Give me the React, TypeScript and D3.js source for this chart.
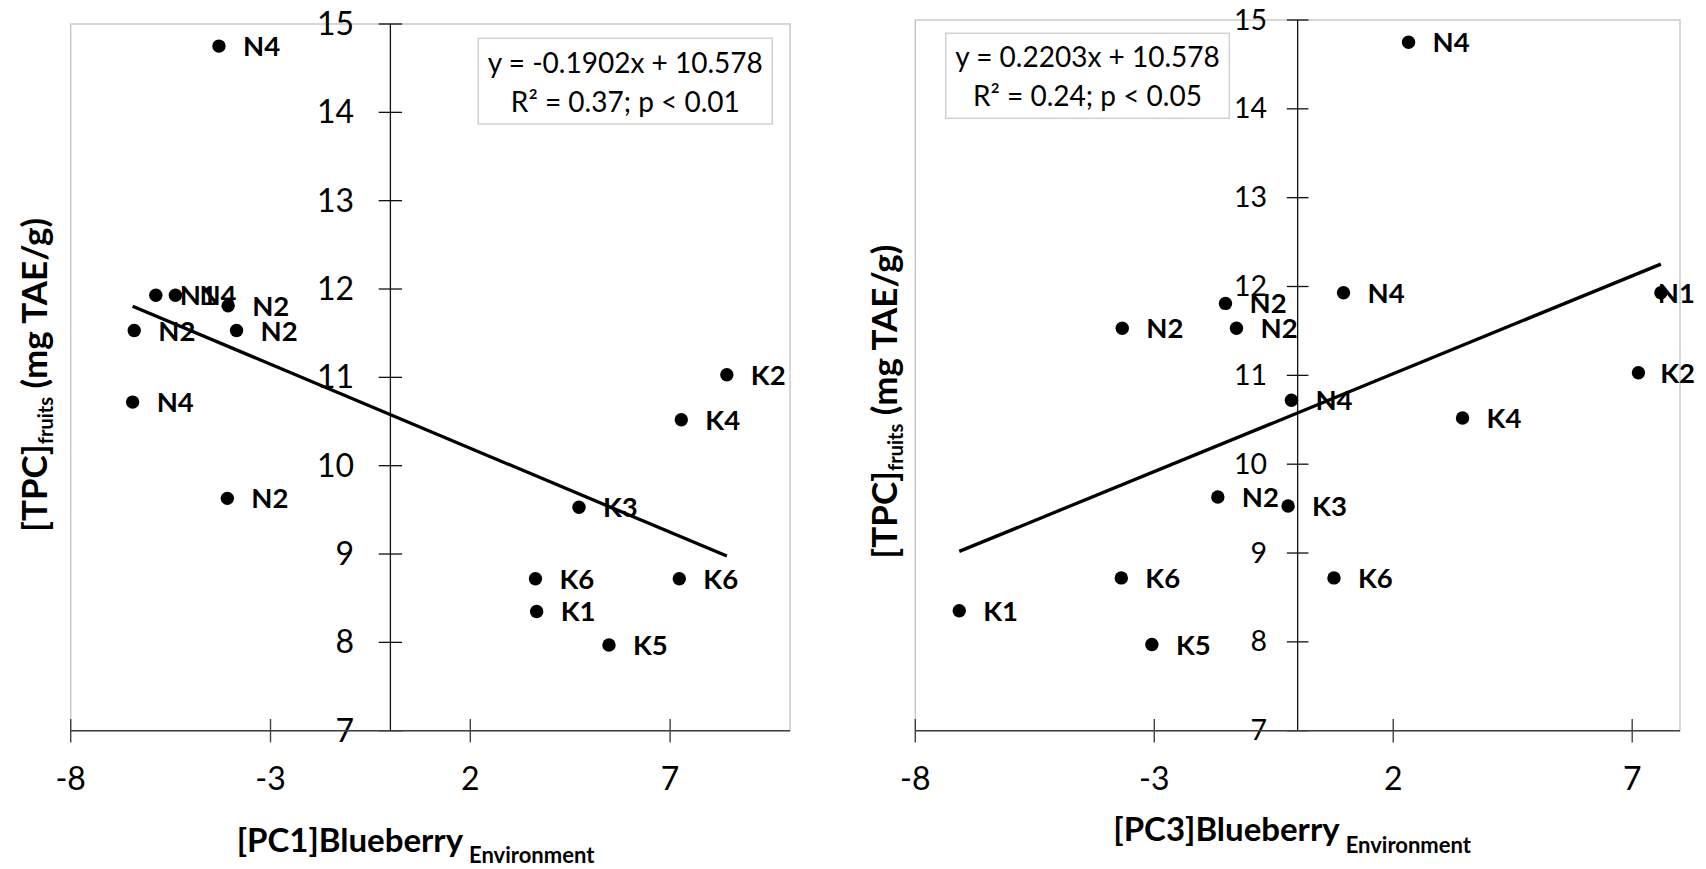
import React from "react";
import * as d3 from "d3";

// Sample identifiers (site + treatment) shared by both panels
const samples = ["N4", "N1", "N4", "N2", "N2", "N2", "N4", "N2", "K2", "K4", "K3", "K6", "K6", "K1", "K5"];
// Total phenolic content of fruits, mg TAE/g
const tpc = [14.75, 11.93, 11.93, 11.81, 11.53, 11.53, 10.72, 9.63, 11.03, 10.52, 9.53, 8.72, 8.72, 8.35, 7.97];
// Environmental principal component scores
const pc1 = [-4.29, -5.87, -5.38, -4.06, -6.41, -3.85, -6.45, -4.08, 8.42, 7.28, 4.72, 3.63, 7.23, 3.66, 5.47];
const pc3 = [2.32, 7.6, 0.96, -1.51, -3.67, -1.28, -0.13, -1.67, 7.13, 3.45, -0.2, -3.69, 0.76, -7.08, -3.05];

const xTicks = [-8, -3, 2, 7];
const yTicks = [7, 8, 9, 10, 11, 12, 13, 14, 15];

// Linear fits: [slope, intercept]
const pc1Fit = [-0.1902, 10.578];
const pc3Fit = [0.2203, 10.578];
const pc1Stats = ["y = -0.1902x + 10.578", "R² = 0.37; p < 0.01"];
const pc3Stats = ["y = 0.2203x + 10.578", "R² = 0.24; p < 0.05"];

const FONT = "Lato, 'Open Sans', sans-serif";
const W = 1706;
const H = 869;

let measureCtx: CanvasRenderingContext2D | null = null;
function textWidth(t: string, font: string) {
  if (!measureCtx) {
    const c = document.createElement("canvas");
    measureCtx = c.getContext("2d");
  }
  if (!measureCtx) return t.length * 16;
  measureCtx.font = font;
  return measureCtx.measureText(t).width;
}

type PanelProps = {
  xs: number[];
  fit: number[];
  stats: string[];
  pcName: string;
  plot: { x0: number; x1: number; y0: number; y1: number };
  xDomain: [number, number];
  yTickFont: number;
  yTickRight: number;
  yTickDy: number;
  tickHalf: number;
  box: { x0: number; y0: number; x1: number; y1: number; base1: number; base2: number; font: number };
  xTitle: { x: number; base: number; subDy: number };
  yTitle: { x: number; cy: number };
};

function Panel(p: PanelProps) {
  const { plot } = p;
  const x = d3.scaleLinear().domain(p.xDomain).range([plot.x0, plot.x1]);
  const y = d3.scaleLinear().domain([7, 15]).range([plot.y1, plot.y0]);
  const x0 = x(0);
  const labelFont = 27.5;
  const labelFontStr = `bold ${labelFont}px Lato`;

  const [lo, hi] = d3.extent(p.xs) as [number, number];
  const line = d3
    .line<number>()
    .x((v) => x(v))
    .y((v) => y(p.fit[0] * v + p.fit[1]));

  const boxCx = (p.box.x0 + p.box.x1) / 2;

  return (
    <g>
      {/* plot area frame */}
      <rect
        x={plot.x0}
        y={plot.y0}
        width={plot.x1 - plot.x0}
        height={plot.y1 - plot.y0}
        fill="none"
        stroke="#c6c6c6"
        strokeWidth={1.4}
      />
      {/* y axis at x = 0 */}
      <line x1={x0} x2={x0} y1={plot.y0} y2={plot.y1} stroke="#111" strokeWidth={1.3} />
      {yTicks.map((t) => (
        <g key={"yt" + t}>
          <line x1={x0 - p.tickHalf} x2={x0 + p.tickHalf} y1={y(t)} y2={y(t)} stroke="#111" strokeWidth={1.3} />
          <text
            x={p.yTickRight}
            y={y(t) + p.yTickDy}
            textAnchor="end"
            fontFamily={FONT}
            fontSize={p.yTickFont}
            fill="#000"
          >
            {t}
          </text>
        </g>
      ))}
      {/* x axis at the bottom */}
      <line x1={plot.x0} x2={plot.x1} y1={plot.y1} y2={plot.y1} stroke="#404040" strokeWidth={1.6} />
      {xTicks.map((t) => (
        <g key={"xt" + t}>
          <line x1={x(t)} x2={x(t)} y1={plot.y1 - 11.7} y2={plot.y1 + 11.7} stroke="#404040" strokeWidth={1.4} />
          <text x={x(t)} y={plot.y1 + 59} textAnchor="middle" fontFamily={FONT} fontSize={32} fill="#000">
            {t}
          </text>
        </g>
      ))}
      {/* markers */}
      {p.xs.map((v, i) => (
        <circle key={"pt" + i} cx={x(v)} cy={y(tpc[i])} r={6.7} fill="#000" />
      ))}
      {/* point labels */}
      {p.xs.map((v, i) => {
        const w = textWidth(samples[i], labelFontStr);
        const lx = Math.min(x(v) + 24, 1695 - w);
        return (
          <text
            key={"lb" + i}
            x={lx}
            y={y(tpc[i]) + 10}
            fontFamily={FONT}
            fontWeight="bold"
            fontSize={labelFont}
            fill="#000"
          >
            {samples[i]}
          </text>
        );
      })}
      {/* regression line over the data range */}
      <path d={line([lo, hi]) || ""} fill="none" stroke="#000" strokeWidth={3.3} />
      {/* equation box */}
      <rect
        x={p.box.x0}
        y={p.box.y0}
        width={p.box.x1 - p.box.x0}
        height={p.box.y1 - p.box.y0}
        fill="#fff"
        stroke="#d0d0d0"
        strokeWidth={1.5}
      />
      <text x={boxCx} y={p.box.base1} textAnchor="middle" fontFamily={FONT} fontSize={p.box.font} fill="#000">
        {p.stats[0]}
      </text>
      <text x={boxCx} y={p.box.base2} textAnchor="middle" fontFamily={FONT} fontSize={p.box.font} fill="#000">
        {p.stats[1]}
      </text>
      {/* axis titles */}
      <text x={p.xTitle.x} y={p.xTitle.base} fontFamily={FONT} fontWeight="bold" fontSize={33} fill="#000">
        {`[${p.pcName}]Blueberry`}
        <tspan dx={6} dy={p.xTitle.subDy} fontSize={22}>
          Environment
        </tspan>
      </text>
      <text
        transform={`translate(${p.yTitle.x},${p.yTitle.cy}) rotate(-90)`}
        textAnchor="middle"
        fontFamily={FONT}
        fontWeight="bold"
        fontSize={35}
        fill="#000"
      >
        [TPC]
        <tspan dy={6} fontSize={20}>
          fruits
        </tspan>
        <tspan dy={-6}> (mg TAE/g)</tspan>
      </text>
    </g>
  );
}

export default function App() {
  return (
    <svg
      width={W}
      height={H}
      viewBox={`0 0 ${W} ${H}`}
      style={{ position: "absolute", left: 0, top: 0, background: "#fff" }}
    >
      <rect x={0} y={0} width={W} height={H} fill="#fff" />
      <Panel
        xs={pc1}
        fit={pc1Fit}
        stats={pc1Stats}
        pcName="PC1"
        plot={{ x0: 70.7, x1: 790, y0: 24, y1: 730.7 }}
        xDomain={[-8, 10]}
        yTickFont={32}
        yTickRight={354}
        yTickDy={11}
        tickHalf={11.7}
        box={{ x0: 478.3, y0: 38.3, x1: 772.3, y1: 124, base1: 73.3, base2: 111.7, font: 28 }}
        xTitle={{ x: 236.7, base: 851.7, subDy: 11.6 }}
        yTitle={{ x: 47, cy: 375 }}
      />
      <Panel
        xs={pc3}
        fit={pc3Fit}
        stats={pc3Stats}
        pcName="PC3"
        plot={{ x0: 915.3, x1: 1680, y0: 20, y1: 730.7 }}
        xDomain={[-8, 8]}
        yTickFont={28.5}
        yTickRight={1267}
        yTickDy={9.5}
        tickHalf={10.8}
        box={{ x0: 945.7, y0: 33.3, x1: 1229.3, y1: 118.3, base1: 66.7, base2: 106, font: 28 }}
        xTitle={{ x: 1113.3, base: 840.7, subDy: 12.6 }}
        yTitle={{ x: 897, cy: 401.7 }}
      />
    </svg>
  );
}
